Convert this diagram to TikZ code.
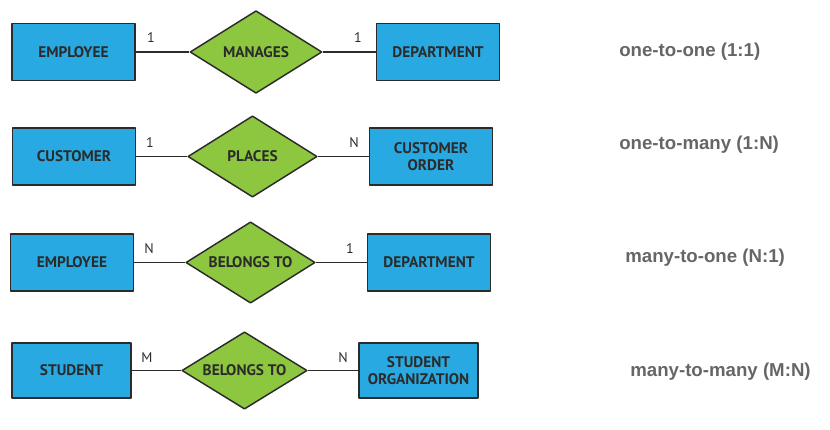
\documentclass[tikz,border=0pt]{standalone}
\usepackage{fontspec}
\setmainfont{PT Sans}
\newfontfamily\kindfont{Liberation Sans}
\usetikzlibrary{shapes.geometric}
\definecolor{entblue}{HTML}{29A9E1}
\definecolor{relgreen}{HTML}{8DC63F}
\definecolor{edgegray}{HTML}{2B2B2B}
\definecolor{kindgray}{HTML}{666666}
\begin{document}
\begin{tikzpicture}[x=0.75pt,y=-0.75pt,line join=round,
	entity/.style={draw=edgegray,line width=1.1pt,fill=entblue,minimum width=92pt,minimum height=43pt,inner sep=0pt,align=center,text=edgegray,font=\bfseries\fontsize{11.5}{12.5}\selectfont},
	relation/.style={diamond,aspect=1.6,draw=edgegray,line width=1.1pt,fill=relgreen,inner sep=0pt,text=edgegray,font=\bfseries\fontsize{11.5}{12.5}\selectfont},
	card/.style={text=edgegray,font=\fontsize{10.5}{11}\selectfont},
	kind/.style={anchor=west,inner sep=0pt,text=kindgray,font=\kindfont\bfseries\fontsize{14}{16}\selectfont},
	link/.style={draw=edgegray,line width=0.9pt}]
	\useasboundingbox (0,0) rectangle (830,429);
	% 1:1
	\node[entity] (emp1) at (73.5,52) {EMPLOYEE};
	\node[relation,minimum width=99pt,minimum height=62pt] (manages) at (256,52) {MANAGES};
	\node[entity] (dept1) at (438,52) {DEPARTMENT};
	\draw[link] (emp1) -- (manages) (manages) -- (dept1);
	\node[card] (c11) at (151,38) {1};
	\node[card] (c12) at (358,38) {1};
	\node[kind] (k1) at (619,52) {one-to-one (1:1)};
	% 1:N
	\node[entity] (cust) at (74,156.5) {CUSTOMER};
	\node[relation,minimum width=97pt,minimum height=61pt] (places) at (252.5,156.5) {PLACES};
	\node[entity] (order) at (431,156.5) {CUSTOMER\\ORDER};
	\draw[link] (cust) -- (places) (places) -- (order);
	\node[card] (c21) at (150,143) {1};
	\node[card] (c22) at (354,143) {N};
	\node[kind] (k2) at (619,145) {one-to-many (1:N)};
	% N:1
	\node[entity] (emp2) at (72,262.5) {EMPLOYEE};
	\node[relation,minimum width=97pt,minimum height=61pt] (belongs1) at (250.5,262.5) {BELONGS TO};
	\node[entity] (dept2) at (429,262.5) {DEPARTMENT};
	\draw[link] (emp2) -- (belongs1) (belongs1) -- (dept2);
	\node[card] (c31) at (149,249) {N};
	\node[card] (c32) at (350,249) {1};
	\node[kind] (k3) at (625,258) {many-to-one (N:1)};
	% M:N
	\node[entity,minimum width=89pt,minimum height=41pt] (stud) at (71.5,370.5) {STUDENT};
	\node[relation,minimum width=94pt,minimum height=58pt] (belongs2) at (244.5,370.5) {BELONGS TO};
	\node[entity,minimum width=89pt,minimum height=41pt] (org) at (418.5,370.5) {STUDENT\\ORGANIZATION};
	\draw[link] (stud) -- (belongs2) (belongs2) -- (org);
	\node[card] (c41) at (147,358) {M};
	\node[card] (c42) at (343,358) {N};
	\node[kind] (k4) at (630,372) {many-to-many (M:N)};
\end{tikzpicture}
\end{document}
